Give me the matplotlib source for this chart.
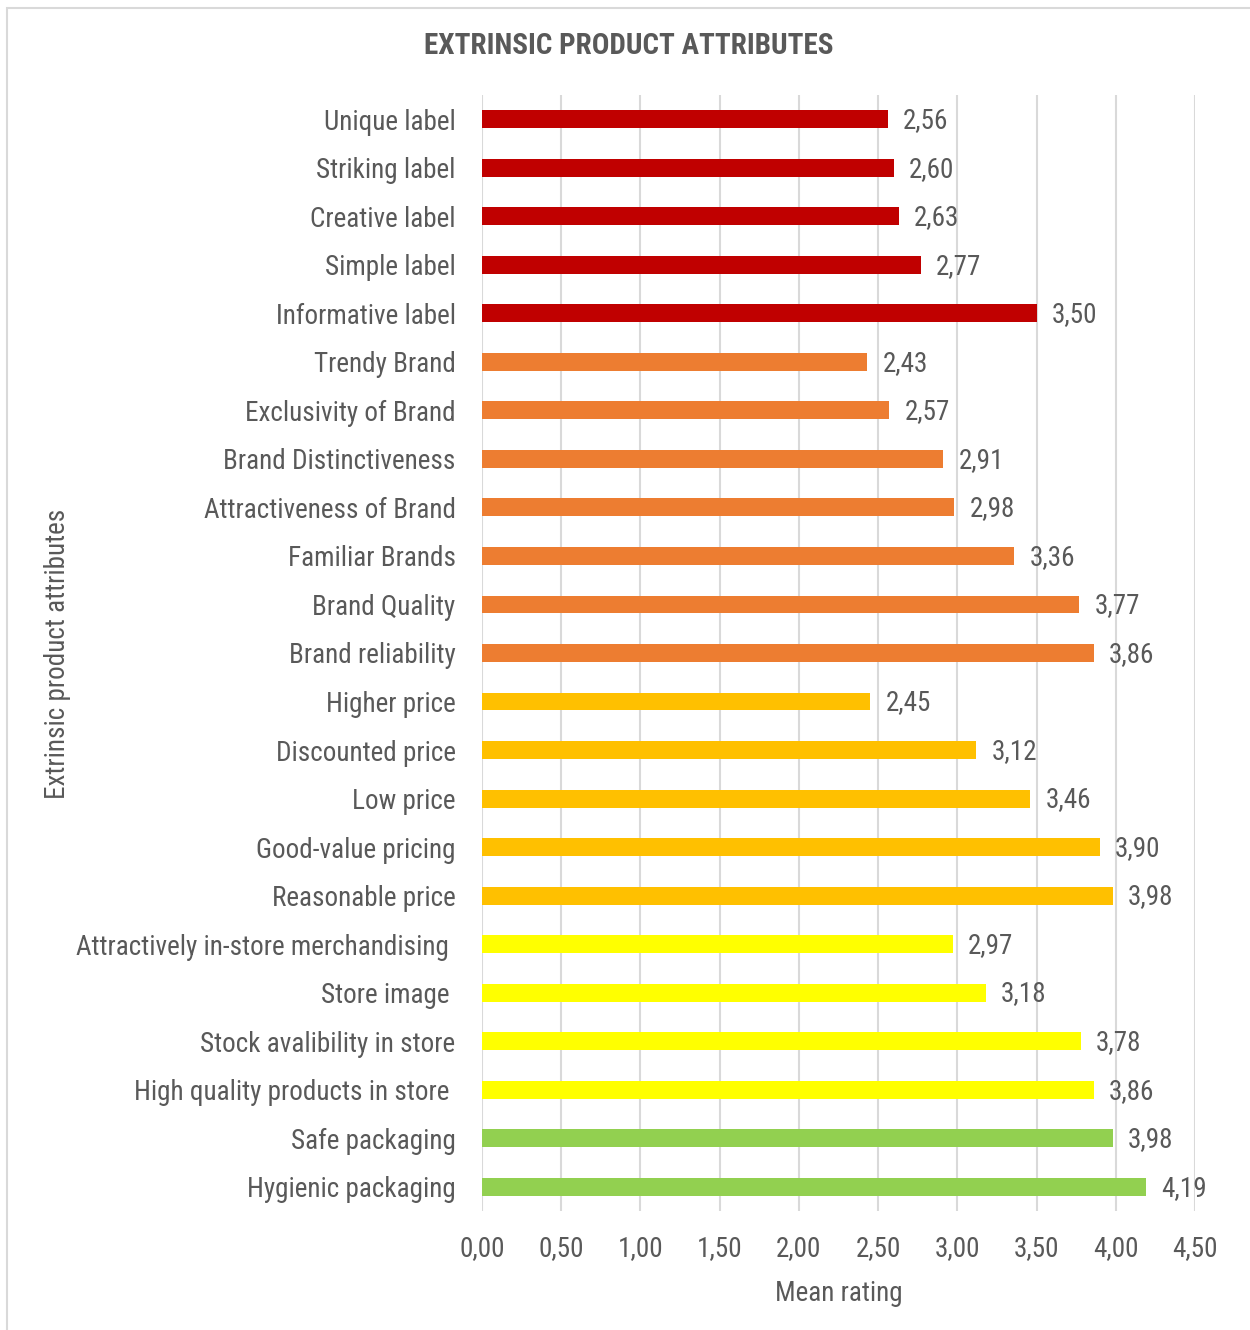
import numpy as np
import matplotlib.pyplot as plt
from matplotlib.patches import Rectangle

plt.rcParams['font.family'] = ['Roboto Condensed', 'DejaVu Sans']

# attributes top to bottom, with their mean rating
labels = ["Unique label", "Striking label", "Creative label", "Simple label",
          "Informative label", "Trendy Brand", "Exclusivity of Brand",
          "Brand Distinctiveness", "Attractiveness of Brand", "Familiar Brands",
          "Brand Quality", "Brand reliability", "Higher price", "Discounted price",
          "Low price", "Good-value pricing", "Reasonable price",
          "Attractively in-store merchandising ", "Store image ",
          "Stock avalibility in store", "High quality products in store ",
          "Safe packaging", "Hygienic packaging"]
means = [2.56, 2.60, 2.63, 2.77, 3.50,
         2.43, 2.57, 2.91, 2.98, 3.36, 3.77, 3.86,
         2.45, 3.12, 3.46, 3.90, 3.98,
         2.97, 3.18, 3.78, 3.86,
         3.98, 4.19]
# group of each attribute: label, brand, price, store, packaging
groups = [0]*5 + [1]*7 + [2]*5 + [3]*4 + [4]*2
group_colors = ["#C00000", "#ED7D31", "#FFC000", "#FFFF00", "#92D050"]
xticks = [0, 0.5, 1, 1.5, 2, 2.5, 3, 3.5, 4, 4.5]

txt = "#595959"
fs = 19.5

fig = plt.figure(figsize=(12.5, 13.3), dpi=100)
# chart frame
fig.patches.append(Rectangle((7/1250, -0.01), 1.02, 1 - 8/1330 + 0.01,
                             transform=fig.transFigure, fill=False,
                             edgecolor="#D9D9D9", linewidth=1.5))

ax = fig.add_axes([482/1250, 1 - 1211/1330, 713/1250, 1116/1330])
y = np.arange(len(labels))
cols = [group_colors[g] for g in groups]
ax.barh(y, means, height=0.37, color=cols, zorder=3)
for yi, v in zip(y, means):
    ax.annotate(f"{v:.2f}".replace(".", ","), (v, yi), xytext=(11, -1),
                textcoords="offset points", va="center", ha="left",
                fontsize=fs, color=txt)

ax.set_ylim(len(labels) - 0.5, -0.5)
ax.set_xlim(0, 4.5)
ax.set_xticks(xticks)
ax.set_xticklabels([f"{t:.2f}".replace(".", ",") for t in xticks])
ax.set_yticks(y)
ax.set_yticklabels(labels)
ax.tick_params(axis="both", length=0, labelsize=fs, colors=txt)
ax.tick_params(axis="y", pad=19)
ax.tick_params(axis="x", pad=17)
ax.grid(axis="x", color="#D9D9D9", linewidth=1.5, zorder=0)
for s in ax.spines.values():
    s.set_visible(False)

ax.set_xlabel("Mean rating", fontsize=fs, color=txt, labelpad=13)
fig.text(58/1250, 1 - 654/1330, "Extrinsic product attributes", rotation=90,
         ha="center", va="center", fontsize=fs, color=txt)
fig.text(629/1250, 1 - 46/1330, "EXTRINSIC PRODUCT ATTRIBUTES", ha="center",
         va="center", fontsize=21, fontweight="bold", color=txt)

fig.savefig("out.png", dpi=100)
